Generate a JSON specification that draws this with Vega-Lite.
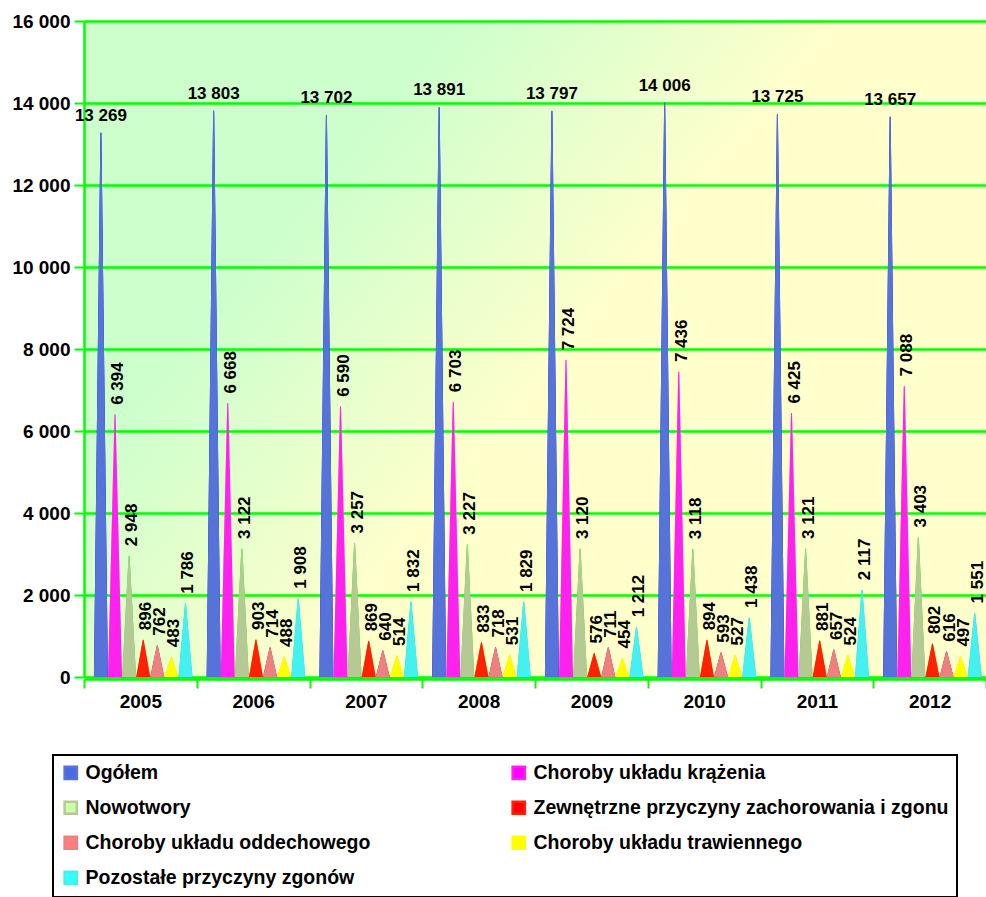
{
  "$schema": "https://vega.github.io/schema/vega-lite/v6.json",
  "autosize": {"type": "none"},
  "width": 902,
  "height": 656,
  "padding": {"left": 84, "top": 21, "right": 0, "bottom": 220},
  "background": "white",
  "config": {
    "locale": {"number": {"decimal": ",", "thousands": " ", "grouping": [3], "currency": ["", " zł"]}},
    "font": "Liberation Sans",
    "view": {"stroke": null, "fill": {"gradient": "linear", "x1": 0, "y1": 0, "x2": 1, "y2": 0.6, "stops": [{"offset": 0.3, "color": "#ccffcc"}, {"offset": 0.62, "color": "#ffffcc"}]}}
  },
  "data": {"values": [
    {"year": "2005", "series": "Ogółem", "value": 13269},
    {"year": "2005", "series": "Choroby układu krążenia", "value": 6394},
    {"year": "2005", "series": "Nowotwory", "value": 2948},
    {"year": "2005", "series": "Zewnętrzne przyczyny zachorowania i zgonu", "value": 896},
    {"year": "2005", "series": "Choroby układu oddechowego", "value": 762},
    {"year": "2005", "series": "Choroby układu trawiennego", "value": 483},
    {"year": "2005", "series": "Pozostałe przyczyny zgonów", "value": 1786},
    {"year": "2006", "series": "Ogółem", "value": 13803},
    {"year": "2006", "series": "Choroby układu krążenia", "value": 6668},
    {"year": "2006", "series": "Nowotwory", "value": 3122},
    {"year": "2006", "series": "Zewnętrzne przyczyny zachorowania i zgonu", "value": 903},
    {"year": "2006", "series": "Choroby układu oddechowego", "value": 714},
    {"year": "2006", "series": "Choroby układu trawiennego", "value": 488},
    {"year": "2006", "series": "Pozostałe przyczyny zgonów", "value": 1908},
    {"year": "2007", "series": "Ogółem", "value": 13702},
    {"year": "2007", "series": "Choroby układu krążenia", "value": 6590},
    {"year": "2007", "series": "Nowotwory", "value": 3257},
    {"year": "2007", "series": "Zewnętrzne przyczyny zachorowania i zgonu", "value": 869},
    {"year": "2007", "series": "Choroby układu oddechowego", "value": 640},
    {"year": "2007", "series": "Choroby układu trawiennego", "value": 514},
    {"year": "2007", "series": "Pozostałe przyczyny zgonów", "value": 1832},
    {"year": "2008", "series": "Ogółem", "value": 13891},
    {"year": "2008", "series": "Choroby układu krążenia", "value": 6703},
    {"year": "2008", "series": "Nowotwory", "value": 3227},
    {"year": "2008", "series": "Zewnętrzne przyczyny zachorowania i zgonu", "value": 833},
    {"year": "2008", "series": "Choroby układu oddechowego", "value": 718},
    {"year": "2008", "series": "Choroby układu trawiennego", "value": 531},
    {"year": "2008", "series": "Pozostałe przyczyny zgonów", "value": 1829},
    {"year": "2009", "series": "Ogółem", "value": 13797},
    {"year": "2009", "series": "Choroby układu krążenia", "value": 7724},
    {"year": "2009", "series": "Nowotwory", "value": 3120},
    {"year": "2009", "series": "Zewnętrzne przyczyny zachorowania i zgonu", "value": 576},
    {"year": "2009", "series": "Choroby układu oddechowego", "value": 711},
    {"year": "2009", "series": "Choroby układu trawiennego", "value": 454},
    {"year": "2009", "series": "Pozostałe przyczyny zgonów", "value": 1212},
    {"year": "2010", "series": "Ogółem", "value": 14006},
    {"year": "2010", "series": "Choroby układu krążenia", "value": 7436},
    {"year": "2010", "series": "Nowotwory", "value": 3118},
    {"year": "2010", "series": "Zewnętrzne przyczyny zachorowania i zgonu", "value": 894},
    {"year": "2010", "series": "Choroby układu oddechowego", "value": 593},
    {"year": "2010", "series": "Choroby układu trawiennego", "value": 527},
    {"year": "2010", "series": "Pozostałe przyczyny zgonów", "value": 1438},
    {"year": "2011", "series": "Ogółem", "value": 13725},
    {"year": "2011", "series": "Choroby układu krążenia", "value": 6425},
    {"year": "2011", "series": "Nowotwory", "value": 3121},
    {"year": "2011", "series": "Zewnętrzne przyczyny zachorowania i zgonu", "value": 881},
    {"year": "2011", "series": "Choroby układu oddechowego", "value": 657},
    {"year": "2011", "series": "Choroby układu trawiennego", "value": 524},
    {"year": "2011", "series": "Pozostałe przyczyny zgonów", "value": 2117},
    {"year": "2012", "series": "Ogółem", "value": 13657},
    {"year": "2012", "series": "Choroby układu krążenia", "value": 7088},
    {"year": "2012", "series": "Nowotwory", "value": 3403},
    {"year": "2012", "series": "Zewnętrzne przyczyny zachorowania i zgonu", "value": 802},
    {"year": "2012", "series": "Choroby układu oddechowego", "value": 616},
    {"year": "2012", "series": "Choroby układu trawiennego", "value": 497},
    {"year": "2012", "series": "Pozostałe przyczyny zgonów", "value": 1551}
  ]},
  "encoding": {
    "x": {"field": "year", "type": "nominal", "scale": {"paddingInner": 0, "paddingOuter": 0},
      "axis": {"title": null, "labelAngle": 0, "labelFontSize": 19, "labelFontWeight": "bold", "labelColor": "black", "labelPadding": 4, "domainColor": "#00ff00", "domainWidth": 2.5, "tickColor": "#00ff00", "tickWidth": 2, "tickSize": 9, "tickBand": "extent", "offset": 2}},
    "xOffset": {"field": "series", "type": "nominal", "sort": null, "scale": {"domain": ["Ogółem", "Choroby układu krążenia", "Nowotwory", "Zewnętrzne przyczyny zachorowania i zgonu", "Choroby układu oddechowego", "Choroby układu trawiennego", "Pozostałe przyczyny zgonów"], "paddingInner": 0, "paddingOuter": 3.4, "align": 0.6}}
  },
  "layer": [
    {
      "transform": [
        {"fold": ["value"], "as": ["pt", "v"]},
        {"impute": "v", "key": "pt", "keyvals": ["value", "base"], "groupby": ["year", "series"], "value": 0}
      ],
      "mark": {"type": "trail", "clip": true},
      "encoding": {
        "y": {"field": "v", "type": "quantitative", "scale": {"domain": [0, 16000], "nice": false},
          "axis": {"title": null, "values": [0, 2000, 4000, 6000, 8000, 10000, 12000, 14000, 16000], "format": ",d", "labelFontSize": 19, "labelFontWeight": "bold", "labelColor": "black", "labelPadding": 4, "tickSize": 10, "tickColor": "#00ff00", "tickWidth": 2, "domainColor": "#00ff00", "domainWidth": 2.5, "gridColor": "#00ff00", "gridWidth": 2.5}},
        "size": {"field": "pt", "type": "ordinal", "scale": {"type": "point", "padding": 0, "domain": ["value", "base"], "range": [0, 14]}, "legend": null},
        "color": {"field": "series", "type": "nominal", "scale": {"domain": ["Ogółem", "Choroby układu krążenia", "Nowotwory", "Zewnętrzne przyczyny zachorowania i zgonu", "Choroby układu oddechowego", "Choroby układu trawiennego", "Pozostałe przyczyny zgonów"], "range": ["#0000ff", "#ff99dd", "#00ff00", "#ff6600", "#800080", "#ffcc00", "#00dddd"]}, "legend": null},
        "detail": {"field": "year"}
      }
    },
    {
      "transform": [
        {"fold": ["value"], "as": ["pt", "v"]},
        {"impute": "v", "key": "pt", "keyvals": ["value", "base"], "groupby": ["year", "series"], "value": 0}
      ],
      "mark": {"type": "trail", "clip": true},
      "encoding": {
        "y": {"field": "v", "type": "quantitative", "scale": {"domain": [0, 16000], "nice": false},
          "axis": {"title": null, "values": [0, 2000, 4000, 6000, 8000, 10000, 12000, 14000, 16000], "format": ",d", "labelFontSize": 19, "labelFontWeight": "bold", "labelColor": "black", "labelPadding": 4, "tickSize": 10, "tickColor": "#00ff00", "tickWidth": 2, "domainColor": "#00ff00", "domainWidth": 2.5, "gridColor": "#00ff00", "gridWidth": 2.5}},
        "size": {"field": "pt", "type": "ordinal", "scale": {"type": "point", "padding": 0, "domain": ["value", "base"], "range": [0, 9]}, "legend": null},
        "color": {"field": "series", "type": "nominal", "scale": {"domain": ["Ogółem", "Choroby układu krążenia", "Nowotwory", "Zewnętrzne przyczyny zachorowania i zgonu", "Choroby układu oddechowego", "Choroby układu trawiennego", "Pozostałe przyczyny zgonów"], "range": ["#5573d8", "#ff22ee", "#b5c995", "#ff2200", "#f08080", "#ffff00", "#44f0f0"]},
          "legend": {"title": null, "orient": "none", "legendX": -31, "legendY": 734, "direction": "horizontal", "columns": 2, "columnPadding": 136, "rowPadding": 12, "gridAlign": "each", "symbolType": "square", "symbolSize": 150, "labelFontSize": 19.5, "labelFontWeight": "bold", "labelColor": "black", "labelLimit": 0, "labelOffset": 5, "padding": 8, "strokeColor": "black",
            "encode": {
              "symbols": {"update": {
                "fill": {"signal": "({'Ogółem': '#4a6ae0', 'Choroby układu krążenia': '#ff00ff', 'Nowotwory': '#ccffaa', 'Zewnętrzne przyczyny zachorowania i zgonu': '#ff0000', 'Choroby układu oddechowego': '#ff7f7f', 'Choroby układu trawiennego': '#ffff00', 'Pozostałe przyczyny zgonów': '#33ffff'})[datum.value]"},
                "stroke": {"signal": "({'Ogółem': '#0000ff', 'Choroby układu krążenia': '#ff99cc', 'Nowotwory': '#00ff00', 'Zewnętrzne przyczyny zachorowania i zgonu': '#ff6600', 'Choroby układu oddechowego': '#800080', 'Choroby układu trawiennego': '#ffcc00', 'Pozostałe przyczyny zgonów': '#00dddd'})[datum.value]"},
                "strokeWidth": {"value": 2.5}, "opacity": {"value": 1}, "size": {"value": 150}, "shape": {"value": "square"}}},
              "legend": {"update": {"strokeWidth": {"value": 2}}}
            }}},
        "detail": {"field": "year"}
      }
    },
    {
      "transform": [{"filter": "datum.series === 'Ogółem'"}],
      "mark": {"type": "text", "fontSize": 17, "fontWeight": "bold", "color": "black", "baseline": "alphabetic", "dy": -12},
      "encoding": {
        "y": {"field": "value", "type": "quantitative", "scale": {"domain": [0, 16000], "nice": false},
          "axis": {"title": null, "values": [0, 2000, 4000, 6000, 8000, 10000, 12000, 14000, 16000], "format": ",d", "labelFontSize": 19, "labelFontWeight": "bold", "labelColor": "black", "labelPadding": 4, "tickSize": 10, "tickColor": "#00ff00", "tickWidth": 2, "domainColor": "#00ff00", "domainWidth": 2.5, "gridColor": "#00ff00", "gridWidth": 2.5}},
        "text": {"field": "value", "type": "quantitative", "format": ",d"}
      }
    },
    {
      "transform": [{"filter": "datum.series !== 'Ogółem'"}],
      "mark": {"type": "text", "fontSize": 17, "fontWeight": "bold", "color": "black", "angle": 270, "align": "left", "baseline": "middle", "dx": 10, "dy": 3},
      "encoding": {
        "y": {"field": "value", "type": "quantitative", "scale": {"domain": [0, 16000], "nice": false},
          "axis": {"title": null, "values": [0, 2000, 4000, 6000, 8000, 10000, 12000, 14000, 16000], "format": ",d", "labelFontSize": 19, "labelFontWeight": "bold", "labelColor": "black", "labelPadding": 4, "tickSize": 10, "tickColor": "#00ff00", "tickWidth": 2, "domainColor": "#00ff00", "domainWidth": 2.5, "gridColor": "#00ff00", "gridWidth": 2.5}},
        "text": {"field": "value", "type": "quantitative", "format": ",d"}
      }
    }
  ],
  "resolve": {"scale": {"color": "independent"}}
}
